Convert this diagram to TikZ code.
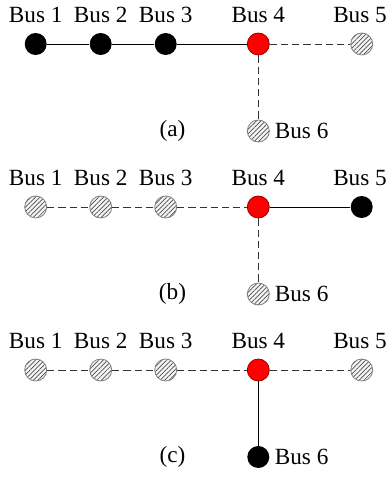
\documentclass[tikz,border=0pt]{standalone}
\usepackage{fontspec}
\setmainfont{Liberation Serif}
\usetikzlibrary{patterns.meta}
\begin{document}
\begin{tikzpicture}[x=0.5pt, y=-0.5pt,
    bus/.style={circle, minimum size=11pt, inner sep=0pt},
    online/.style={bus, fill=black},
    fault/.style={bus, fill=red, draw=red!60!black, line width=0.4pt},
    offline/.style={bus, draw=gray, line width=0.4pt, preaction={fill=gray!8},
        pattern={Lines[angle=45,distance=1.6pt,line width=0.35pt]}, pattern color=gray!60!black},
    tag/.style={font=\fontsize{11.6}{13}\selectfont, inner sep=0pt},
    closed/.style={black, line width=0.5pt},
    opened/.style={black!80, dash pattern=on 3.6pt off 2pt, line width=0.5pt}]
    \useasboundingbox (0,0) rectangle (390,477);
    % three switching states, one panel each
    \foreach \p/\dy/\sa/\sb/\sc/\la/\lb/\lc in {
        a/0/online/offline/offline/closed/opened/opened,
        b/163/offline/online/offline/opened/closed/opened,
        c/326/offline/offline/online/opened/opened/closed} {
        % buses
        \foreach \k/\x in {1/35.7,2/100.7,3/165.7} {
            \node[\sa] (\p\k) at (\x,44+\dy) {};
            \node[tag] (\p\k l) at (\x,15+\dy) {Bus \k};
        }
        \node[fault] (\p4) at (258.3,44+\dy) {};
        \node[tag] (\p4l) at (258.3,15+\dy) {Bus 4};
        \node[\sb] (\p5) at (361.7,44+\dy) {};
        \node[tag] (\p5l) at (360,15+\dy) {Bus 5};
        \node[\sc] (\p6) at (258.3,131+\dy) {};
        \node[tag, anchor=west] (\p6l) at (274.5,131+\dy) {Bus 6};
        \node[tag] (\p t) at (172.5,131+\dy) {(\p)};
        % lines
        \draw[\la] (\p1) -- (\p2);
        \draw[\la] (\p2) -- (\p3);
        \draw[\la] (\p3) -- (\p4);
        \draw[\lb] (\p4) -- (\p5);
        \draw[\lc] (\p4) -- (\p6);
    }
\end{tikzpicture}
\end{document}
